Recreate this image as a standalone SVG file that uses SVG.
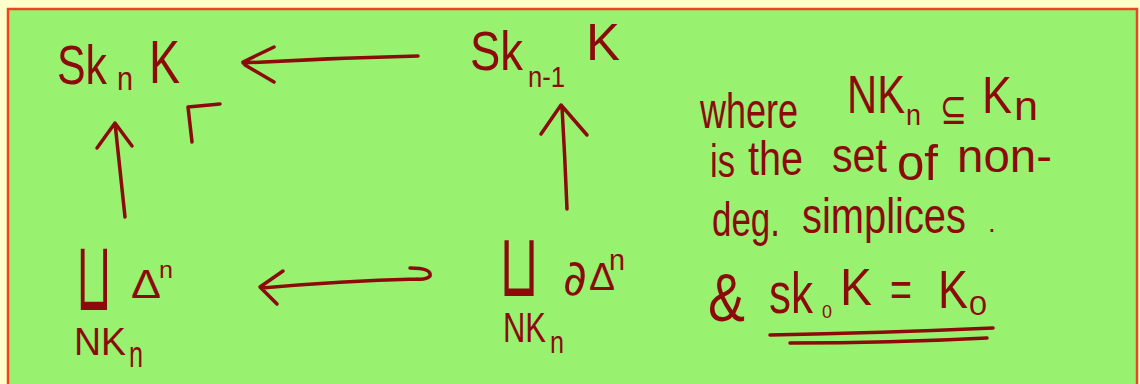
<svg xmlns="http://www.w3.org/2000/svg" width="1140" height="384" viewBox="0 0 1140 384">
<style>
.t{fill:#8b0a0a;font-family:"Liberation Sans","DejaVu Sans",sans-serif}
.m{fill:#8b0a0a;font-family:"DejaVu Sans","Liberation Sans",sans-serif}
.c{stroke:#8b0a0a;fill:none;stroke-width:3.5;stroke-linecap:round;stroke-linejoin:round}
</style>
<rect x="0" y="0" width="1140" height="384" fill="#ffffcc"/>
<rect x="8" y="9" width="1129" height="390" fill="#98f270" stroke="#ee4422" stroke-width="2.5"/>

<g id="node-skn">
<text class="t" x="57" y="84" font-size="56" textLength="50" lengthAdjust="spacingAndGlyphs">Sk</text>
<text class="t" x="117" y="90" font-size="34" textLength="16" lengthAdjust="spacingAndGlyphs">n</text>
<text class="t" x="149" y="83" font-size="62" textLength="31" lengthAdjust="spacingAndGlyphs">K</text>
</g>

<g id="node-skn1">
<text class="t" x="470" y="70" font-size="56" textLength="53" lengthAdjust="spacingAndGlyphs">Sk</text>
<text class="t" x="528" y="87" font-size="30" textLength="37" lengthAdjust="spacingAndGlyphs">n-1</text>
<text class="t" x="586" y="60" font-size="52" textLength="34" lengthAdjust="spacingAndGlyphs">K</text>
</g>

<g id="node-coprod-delta">
<text class="m" x="76" y="310" font-size="98" textLength="36" lengthAdjust="spacingAndGlyphs">⊔</text>
<text class="t" x="131" y="298" font-size="40" textLength="30" lengthAdjust="spacingAndGlyphs">Δ</text>
<text class="t" x="159" y="278" font-size="24" textLength="14" lengthAdjust="spacingAndGlyphs">n</text>
<text class="t" x="74" y="355" font-size="38" textLength="52" lengthAdjust="spacingAndGlyphs">NK</text>
<text class="t" x="129" y="367" font-size="36" textLength="14" lengthAdjust="spacingAndGlyphs">n</text>
</g>

<g id="node-coprod-bdelta">
<text class="m" x="499" y="296" font-size="89" textLength="40" lengthAdjust="spacingAndGlyphs">⊔</text>
<text class="m" x="563" y="295" font-size="50" textLength="24" lengthAdjust="spacingAndGlyphs">∂</text>
<text class="t" x="589" y="290" font-size="38" textLength="26" lengthAdjust="spacingAndGlyphs">Δ</text>
<text class="t" x="609" y="270" font-size="30" textLength="16" lengthAdjust="spacingAndGlyphs">n</text>
<text class="t" x="503" y="342" font-size="42" textLength="43" lengthAdjust="spacingAndGlyphs">NK</text>
<text class="t" x="550" y="353" font-size="32" textLength="14" lengthAdjust="spacingAndGlyphs">n</text>
</g>

<g id="connectors">
<path class="c" d="M418 56 Q330 58 243 63 M274 47 L243 62 M245 65 L274 82"/>
<path class="c" d="M125 217 Q120 170 115 123 M97 148 L115 123 L132 146"/>
<path class="c" d="M567 209 Q565 158 562 107 M541 134 L561 105 L587 135"/>
<path class="c" d="M417 279 Q340 281 262 288 M283 271 L260 287 L277 304 M410 268 Q432 268 430 276 Q426 280 417 279"/>
<path class="c" d="M192 142 L188 107 L220 104"/>
</g>

<g id="note">
<text class="t" x="700" y="128" font-size="50" textLength="98" lengthAdjust="spacingAndGlyphs">where</text>
<text class="t" x="847" y="113" font-size="54" textLength="58" lengthAdjust="spacingAndGlyphs">NK</text>
<text class="t" x="906" y="125" font-size="30" textLength="15" lengthAdjust="spacingAndGlyphs">n</text>
<text class="m" x="940" y="124" font-size="44" textLength="27" lengthAdjust="spacingAndGlyphs">⊆</text>
<text class="t" x="982" y="113" font-size="52" textLength="30" lengthAdjust="spacingAndGlyphs">K</text>
<text class="t" x="1014" y="120" font-size="40" textLength="24" lengthAdjust="spacingAndGlyphs">n</text>

<text class="t" x="710" y="177" font-size="46" textLength="25" lengthAdjust="spacingAndGlyphs">is</text>
<text class="t" x="748" y="175" font-size="48" textLength="55" lengthAdjust="spacingAndGlyphs">the</text>
<text class="t" x="832" y="172" font-size="48" textLength="55" lengthAdjust="spacingAndGlyphs">set</text>
<text class="t" x="897" y="180" font-size="50" textLength="41" lengthAdjust="spacingAndGlyphs">of</text>
<text class="t" x="957" y="172" font-size="46" textLength="95" lengthAdjust="spacingAndGlyphs">non-</text>

<text class="t" x="712" y="236" font-size="48" textLength="68" lengthAdjust="spacingAndGlyphs">deg.</text>
<text class="t" x="802" y="233" font-size="50" textLength="164" lengthAdjust="spacingAndGlyphs">simplices</text>
<text class="t" x="988" y="232" font-size="28">.</text>

<text class="t" x="708" y="321" font-size="68" textLength="37" lengthAdjust="spacingAndGlyphs">&amp;</text>
<text class="t" x="769" y="313" font-size="58" textLength="44" lengthAdjust="spacingAndGlyphs">sk</text>
<text class="t" x="822" y="318" font-size="18" textLength="10" lengthAdjust="spacingAndGlyphs">0</text>
<text class="t" x="840" y="305" font-size="52" textLength="32" lengthAdjust="spacingAndGlyphs">K</text>
<text class="t" x="890" y="306" font-size="50" textLength="22" lengthAdjust="spacingAndGlyphs">=</text>
<text class="t" x="938" y="308" font-size="54" textLength="30" lengthAdjust="spacingAndGlyphs">K</text>
<text class="t" x="969" y="315" font-size="28" textLength="18" lengthAdjust="spacingAndGlyphs">0</text>
<path class="c" d="M770 335 Q880 333 993 328 M790 343 Q890 343 987 338" stroke-width="3"/>
</g>
</svg>
